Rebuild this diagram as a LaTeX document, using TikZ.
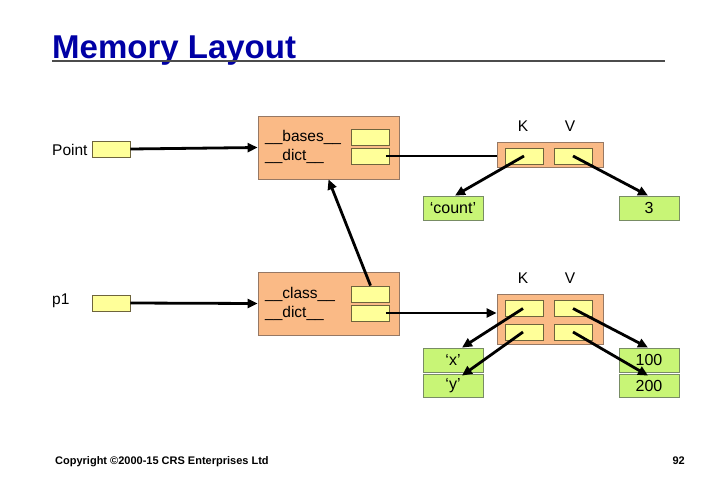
\documentclass[tikz,border=0pt]{standalone}
\usepackage{fontspec}
\setmainfont{Liberation Sans}
\usetikzlibrary{arrows.meta}

\definecolor{titleblue}{RGB}{0,0,165}
\definecolor{objfill}{RGB}{250,186,134}
\definecolor{objdraw}{RGB}{150,120,100}
\definecolor{slotfill}{RGB}{255,255,153}
\definecolor{slotdraw}{RGB}{110,100,60}
\definecolor{valfill}{RGB}{200,245,118}
\definecolor{valdraw}{RGB}{120,140,100}

\tikzset{
  lbl/.style={font=\fontsize{15.5}{18}\selectfont, inner sep=0pt},
  objbox/.style={draw=objdraw, fill=objfill, line width=0.8pt, inner sep=0pt},
  slot/.style={draw=slotdraw, fill=slotfill, line width=0.8pt, inner sep=0pt,
               minimum width=38pt, minimum height=16pt},
  valbox/.style={draw=valdraw, fill=valfill, line width=0.8pt, inner sep=0pt,
               minimum width=60pt, font=\fontsize{16}{18}\selectfont},
  ptr/.style={line width=2.8pt, -{Triangle[length=10pt,width=9pt]}},
  link/.style={line width=2.8pt},
}

\begin{document}
\begin{tikzpicture}[x=1pt,y=-1pt]
\useasboundingbox (0,0) rectangle (720,498);

% heading
\node[anchor=base west, inner sep=0pt, text=titleblue,
      font=\fontsize{33}{36}\selectfont\bfseries] (title) at (52,58) {Memory Layout};
\draw[line width=1.4pt, draw=black!70] (52,61) coordinate (ruleL) -- (665,61) coordinate (ruleR);

% class object Point
\node[lbl, anchor=west] (pointlbl) at (52,150) {Point};
\node[slot] (pointref) at (111,149) {};
\node[objbox, minimum width=141pt, minimum height=63pt] (cls) at (328.5,147.5) {};
\node[lbl, anchor=west] (clsbases) at (265,137) {\_\_bases\_\_};
\node[lbl, anchor=west] (clsdict) at (265,156) {\_\_dict\_\_};
\node[slot] (basesslot) at (370.5,137) {};
\node[slot] (clsdictslot) at (370.5,156) {};

% class dictionary
\node[lbl] (k1) at (523,126) {K};
\node[lbl] (v1) at (570,126) {V};
\node[objbox, minimum width=106pt, minimum height=25pt] (cdict) at (550,154.5) {};
\node[slot] (ckey) at (524,156) {};
\node[slot] (cval) at (573,156) {};
\node[valbox, minimum height=24pt] (count) at (453,208) {‘count’};
\node[valbox, minimum height=24pt] (three) at (649,208) {3};

% instance p1
\node[lbl, anchor=west] (p1lbl) at (52,301) {p1};
\node[slot] (p1ref) at (111,303) {};
\node[objbox, minimum width=141pt, minimum height=63pt] (inst) at (328.5,303.5) {};
\node[lbl, anchor=west] (instclass) at (265,294) {\_\_class\_\_};
\node[lbl, anchor=west] (instdict) at (265,313) {\_\_dict\_\_};
\node[slot] (classslot) at (370.5,294) {};
\node[slot] (instdictslot) at (370.5,313) {};

% instance dictionary
\node[lbl] (k2) at (523,278) {K};
\node[lbl] (v2) at (570,278) {V};
\node[objbox, minimum width=106pt, minimum height=50pt] (idict) at (550,319.5) {};
\node[slot] (ikey1) at (524,308.5) {};
\node[slot] (ival1) at (573,308.5) {};
\node[slot] (ikey2) at (524,332) {};
\node[slot] (ival2) at (573,332) {};
\node[valbox, minimum height=24pt] (xval) at (453,360) {‘x’};
\node[valbox, minimum height=23pt] (yval) at (453,385.5) {‘y’};
\node[valbox, minimum height=24pt] (hval) at (649,360) {100};
\node[valbox, minimum height=23pt] (tval) at (649,385.5) {200};

% references
\draw[ptr] (pointref.east) -- (cls.west);
\draw[link] ([xshift=-4pt]clsdictslot.east) -- (cdict.west |- clsdictslot.east);
\draw[ptr] (ckey.center) -- ([xshift=2pt]count.north);
\draw[ptr] (cval.center) -- ([xshift=-1pt]three.north);

\draw[ptr] (p1ref.east) -- (inst.west);
\draw[ptr] (classslot.north) -- (cls.south);
\draw[ptr] ([xshift=-4pt]instdictslot.east) -- (idict.west |- instdictslot.east);
\draw[ptr] ([xshift=-1pt]ikey1.center) -- ([xshift=9pt]xval.north);
\draw[ptr] ([xshift=-1pt]ikey2.center) -- ([xshift=9pt,yshift=-2pt]yval.north);
\draw[ptr] (ival1.center) -- ([xshift=-1pt]hval.north);
\draw[ptr] (ival2.center) -- ([xshift=-1pt,yshift=-2pt]tval.north);

% footer
\node[anchor=base west, inner sep=0pt, font=\fontsize{11}{13}\selectfont\bfseries]
  (copy) at (55,464) {Copyright ©2000-15 CRS Enterprises Ltd};
\node[anchor=base east, inner sep=0pt, font=\fontsize{11}{13}\selectfont\bfseries]
  (page) at (685,464) {92};
\end{tikzpicture}
\end{document}
